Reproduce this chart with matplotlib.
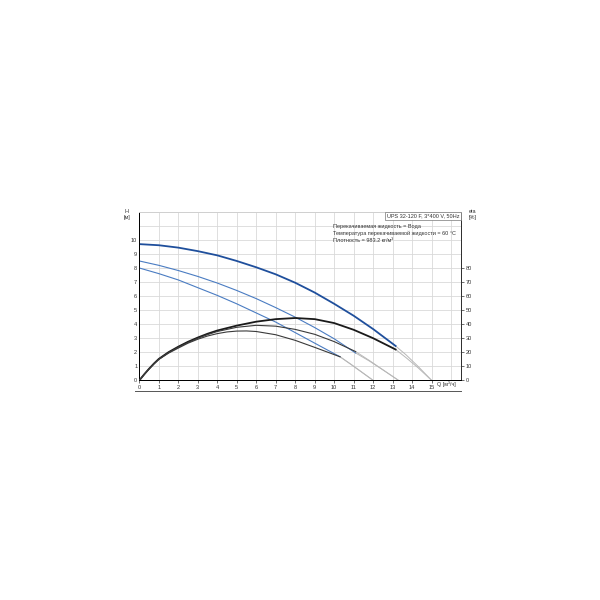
import numpy as np
import matplotlib
matplotlib.use("Agg")
import matplotlib.pyplot as plt

plt.rcParams['font.family'] = ['Liberation Sans', 'DejaVu Sans']

# Q-H curves (three speeds)
q_h1 = [0, 1, 2, 3, 4, 5, 6, 7, 8, 9, 10, 11, 12, 13.15]
h1 = [9.7, 9.62, 9.45, 9.2, 8.9, 8.5, 8.05, 7.55, 6.95, 6.25, 5.45, 4.6, 3.65, 2.45]
q_h2 = [0, 1, 2, 3, 4, 5, 6, 7, 8, 9, 10, 11.1]
h2 = [8.5, 8.19, 7.82, 7.4, 6.93, 6.4, 5.82, 5.18, 4.5, 3.76, 2.96, 1.95]
q_h3 = [0, 1, 2, 3, 4, 5, 6, 7, 8, 9, 10.3]
h3 = [8.0, 7.6, 7.15, 6.6, 6.05, 5.45, 4.8, 4.15, 3.4, 2.65, 1.68]

# efficiency curves [%]
q_e1 = [0, 0.25, 0.5, 0.75, 1, 1.5, 2, 2.5, 3, 3.5, 4, 5, 6, 7, 8, 9, 10, 11, 12, 13.15]
eta1 = [0, 4.3, 8.3, 12, 15.3, 20.1, 24, 27.5, 30.5, 33.2, 35.5, 39, 41.8, 43.6, 44.4,
        43.6, 40.8, 36, 30, 22]
q_e2 = [0, 0.25, 0.5, 0.75, 1, 1.5, 2, 2.5, 3, 3.5, 4, 5, 6, 7, 8, 9, 10, 11.1]
eta2 = [0, 4.3, 8.2, 11.8, 15.1, 19.8, 23.6, 27, 30, 32.6, 34.8, 37.8, 39.2, 38.6, 36.3,
        32.8, 27.6, 20.5]
q_e3 = [0, 0.25, 0.5, 0.75, 1, 1.5, 2, 2.5, 3, 3.5, 4, 4.5, 5, 5.5, 6, 7, 8, 9, 10.3]
eta3 = [0, 4.2, 8.1, 11.7, 14.9, 19.4, 23, 26.5, 29.3, 31.6, 33.3, 34.5, 35.1, 35.2, 34.8,
        32.5, 28.5, 23.5, 16.8]

# grey continuation of the curves down to zero
q_x1 = [13.15, 13.7, 14.3, 15]
h_x1 = [2.45, 1.8, 1.0, 0]
eta_x1 = [22, 16, 9, 0]
q_x2 = [11.1, 11.8, 12.5, 13.3]
h_x2 = [1.95, 1.38, 0.75, 0]
eta_x2 = [20.5, 14.2, 7.5, 0]
q_x3 = [10.3, 10.85, 11.4, 12]
h_x3 = [1.68, 1.15, 0.6, 0]
eta_x3 = [16.8, 11.5, 6, 0]

q_ticks = list(range(0, 16))
h_ticks = list(range(0, 11))
eta_ticks = list(range(0, 90, 10))

dark_blue = '#1f4f9c'
light_blue = '#4a7cc2'
grey = '#b8b8b8'

fig = plt.figure(figsize=(6, 6), dpi=100)
ax = fig.add_axes([0.2322, 0.366, 0.536, 0.281])
ax2 = ax.twinx()

ax.set_xlim(0, 16.5)
ax.set_ylim(0, 12)
ax2.set_ylim(0, 120)

ax.set_xticks(q_ticks)
ax.set_xticklabels([str(v) for v in q_ticks])
ax.set_xticks(range(0, 17), minor=True)
ax.grid(True, which='both', color='#d9d9d9', linewidth=0.6)
ax.set_axisbelow(True)
ax.set_yticks(range(0, 13))
ax.set_yticklabels([str(v) if v in h_ticks else '' for v in range(0, 13)])
ax2.set_yticks(eta_ticks)

for a in (ax, ax2):
    a.tick_params(labelsize=4.1, length=2, width=0.5, pad=1.5, colors='#333333')
ax.tick_params(axis='x', which='minor', length=0)
ax.tick_params(axis='y', length=0)

ax.spines['top'].set_color('#d0d0d0')
ax2.spines['top'].set_color('#d0d0d0')
ax.spines['left'].set_color('#333333')
ax.spines['bottom'].set_color('#333333')
ax2.spines['right'].set_color('#333333')
for s in list(ax.spines.values()) + list(ax2.spines.values()):
    s.set_linewidth(0.7)

# curves
ax.plot(q_h1, h1, color=dark_blue, lw=1.3, zorder=4)
ax.plot(q_h2, h2, color=light_blue, lw=0.8, zorder=4)
ax.plot(q_h3, h3, color=light_blue, lw=0.8, zorder=4)
for qx, hx in [(q_x1, h_x1), (q_x2, h_x2), (q_x3, h_x3)]:
    ax.plot(qx, hx, color=grey, lw=0.7, zorder=3)

ax2.plot(q_e1, eta1, color='#1a1a1a', lw=1.3, zorder=4)
ax2.plot(q_e2, eta2, color='#3a3a3a', lw=0.8, zorder=4)
ax2.plot(q_e3, eta3, color='#3a3a3a', lw=0.8, zorder=4)
for qx, ex in [(q_x1, eta_x1), (q_x2, eta_x2), (q_x3, eta_x3)]:
    ax2.plot(qx, ex, color=grey, lw=0.7, zorder=3)

# line under the x tick labels
ax.plot([-0.013, 1.0], [-0.06, -0.06], transform=ax.transAxes, color='#555555',
        lw=0.7, clip_on=False)

# axis labels
fs = 4.0
fig.text(0.2115, 0.643, 'H\n[м]', fontsize=fs, ha='center', va='center', color='#333333', linespacing=1.3)
fig.text(0.788, 0.643, 'eta\n[%]', fontsize=fs, ha='center', va='center', color='#333333', linespacing=1.3)
fig.text(0.728, 0.359, 'Q [м³/ч]', fontsize=fs, ha='left', va='center', color='#333333')

# info text
fig.text(0.7655, 0.640, 'UPS 32-120 F, 3*400 V, 50Hz', fontsize=fs, ha='right', va='center',
         color='#333333',
         bbox=dict(boxstyle='square,pad=0.35', facecolor='white', edgecolor='#777777', linewidth=0.5))
info = ['Перекачиваемая жидкость = Вода',
        'Температура перекачиваемой жидкости = 60 °C',
        'Плотность = 983.2 кг/м³']
for i, line in enumerate(info):
    fig.text(0.555, 0.623 - i * 0.0115, line, fontsize=fs, ha='left', va='center', color='#333333')

fig.savefig('out.png', dpi=100)
